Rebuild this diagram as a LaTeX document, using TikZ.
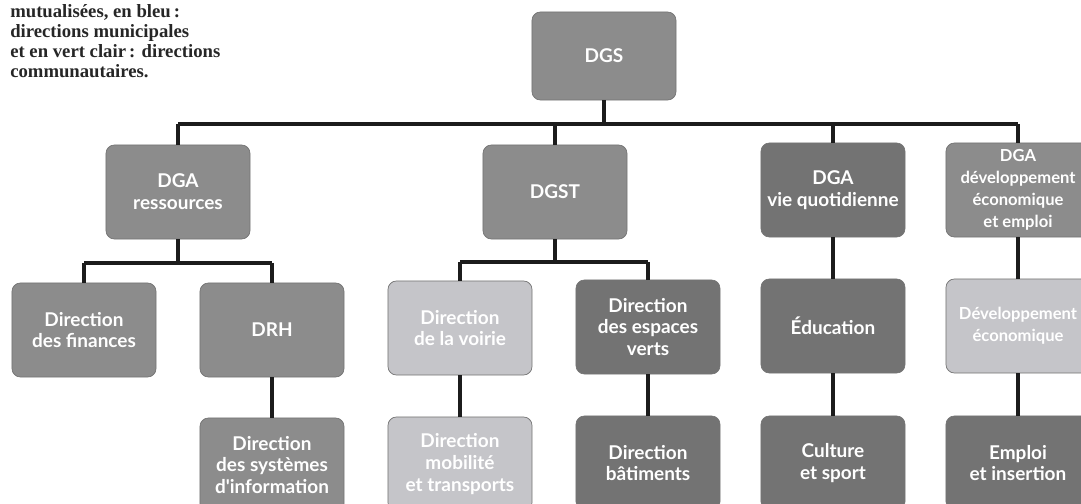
\documentclass[tikz,border=0pt]{standalone}
\usepackage{fontspec}
\setmainfont{Liberation Serif}
\newfontfamily\boxfont{Lato}
\definecolor{mutgray}{HTML}{8C8C8C}
\definecolor{munigray}{HTML}{737373}
\definecolor{commgray}{HTML}{C5C5C9}
\definecolor{linegray}{HTML}{1C1C1C}

\begin{document}
\begin{tikzpicture}[x=0.025cm, y=-0.025cm,
    orgbox/.style={rounded corners=6pt, draw=black!55, line width=0.5pt,
        minimum width=3.6cm, minimum height=2.35cm, align=center, inner sep=1pt,
        text=white, font=\boxfont\bfseries\fontsize{13.5}{15.6}\selectfont},
    mut/.style={orgbox, fill=mutgray},
    muni/.style={orgbox, fill=munigray},
    comm/.style={orgbox, fill=commgray},
    edgebox/.style={font=\boxfont\bfseries\fontsize{11.8}{15.6}\selectfont},
    link/.style={draw=linegray, line width=2.5pt}]
    \useasboundingbox (0,0) rectangle (1081,504);
    \clip (0,0) rectangle (1081,504);

    % Legend text
    \node[anchor=north west, align=left, inner sep=0pt, text=black!85,
        font=\bfseries\fontsize{13.3}{14.2}\selectfont] (legend) at (10,4)
        {mutualisées, en bleu\,:\\directions municipales\\et en vert clair\,: directions\\communautaires.};

    % Draw boxes
    \node[mut, minimum height=2.2cm] (dgs) at (604,56) {DGS};
    \node[mut] (res) at (178,192) {DGA\\ressources};
    \node[mut] (dgst) at (555,192) {DGST};
    \node[muni] (vie) at (833,190) {DGA\\vie quotidienne};
    \node[mut, edgebox] (dev) at (1018,190) {DGA\\développement\\économique\\et emploi};

    \node[mut] (fin) at (84,330) {Direction\\des finances};
    \node[mut] (drh) at (272,330) {DRH};
    \node[comm] (voirie) at (460,328) {Direction\\de la voirie};
    \node[muni] (verts) at (648,327) {Direction\\des espaces\\verts};
    \node[muni] (edu) at (833,326) {Éducation};
    \node[comm, edgebox] (eco) at (1018,326) {Développement\\économique};

    \node[mut] (dsi) at (272,465) {Direction\\des systèmes\\d'information};
    \node[comm] (mob) at (460,464) {Direction\\mobilité\\et transports};
    \node[muni] (bat) at (648,463) {Direction\\bâtiments};
    \node[muni] (cult) at (833,463) {Culture\\et sport};
    \node[muni] (emp) at (1018,463) {Emploi\\et insertion};

    % Add connectors
    \coordinate (bus) at (0,124);
    \coordinate (resbus) at (0,263);
    \coordinate (dgstbus) at (0,262);
    \draw[link] (dgs.south) -- (dgs |- bus);
    \draw[link] (res |- bus) -- (dev |- bus);
    \foreach \n in {res,dgst,vie,dev} {
        \draw[link] (\n |- bus) -- (\n.north);
    }
    \draw[link] (res.south) -- (res |- resbus);
    \draw[link] (fin |- resbus) -- (drh |- resbus);
    \draw[link] (fin |- resbus) -- (fin.north);
    \draw[link] (drh |- resbus) -- (drh.north);
    \draw[link] (dgst.south) -- (dgst |- dgstbus);
    \draw[link] (voirie |- dgstbus) -- (verts |- dgstbus);
    \draw[link] (voirie |- dgstbus) -- (voirie.north);
    \draw[link] (verts |- dgstbus) -- (verts.north);
    \draw[link] (vie.south) -- (edu.north);
    \draw[link] (dev.south) -- (eco.north);
    \foreach \a/\b in {drh/dsi,voirie/mob,verts/bat,edu/cult,eco/emp} {
        \draw[link] (\a.south) -- (\b.north);
    }
\end{tikzpicture}
\end{document}
